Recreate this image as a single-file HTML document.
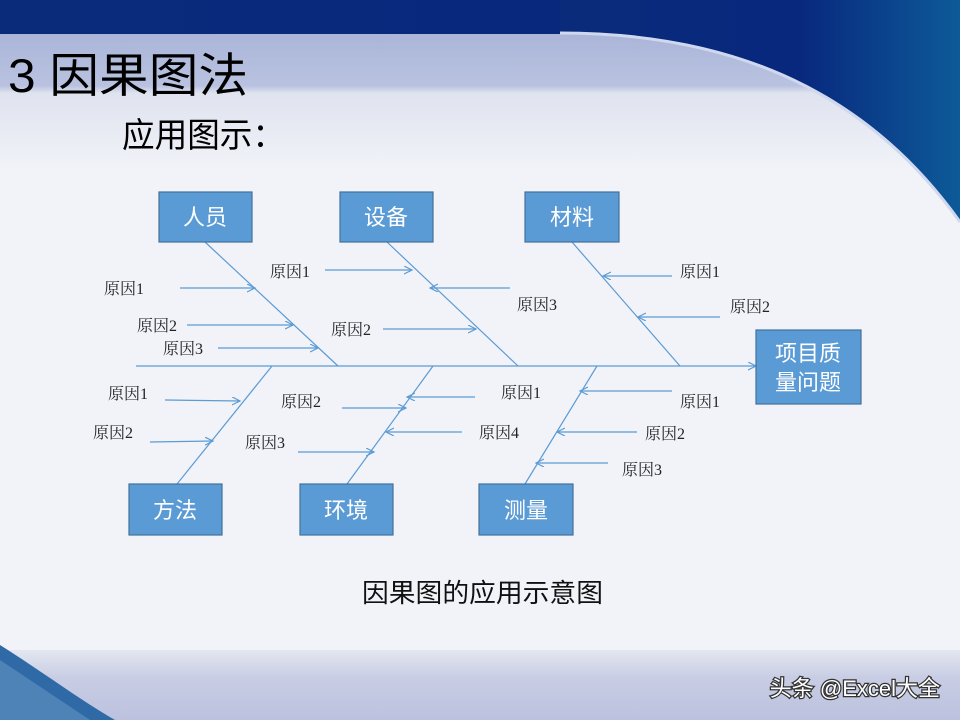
<!DOCTYPE html>
<html><head><meta charset="utf-8"><style>
html,body{margin:0;padding:0;width:960px;height:720px;overflow:hidden;background:#f1f3f8}
</style></head><body>
<svg width="960" height="720" viewBox="0 0 960 720" xmlns="http://www.w3.org/2000/svg">
<defs>
<linearGradient id="top" x1="0" y1="0" x2="1" y2="0">
<stop offset="0" stop-color="#0a2a7a"/><stop offset="0.6" stop-color="#08287e"/><stop offset="1" stop-color="#0d5a98"/></linearGradient>
<linearGradient id="band" x1="0" y1="0" x2="0" y2="1">
<stop offset="0" stop-color="#a9b4d8"/><stop offset="0.4" stop-color="#b9c2e0"/><stop offset="0.45" stop-color="#dfe3ef"/><stop offset="1" stop-color="#f1f3f8"/></linearGradient>
<linearGradient id="bot" x1="0" y1="0" x2="0" y2="1">
<stop offset="0" stop-color="#e4e7f1"/><stop offset="0.4" stop-color="#c8cde4"/><stop offset="1" stop-color="#bcc2de"/></linearGradient>
<marker id="a" markerWidth="10" markerHeight="10" refX="8" refY="4" orient="auto" markerUnits="userSpaceOnUse">
<path d="M0,0 L8,4 L0,8" fill="none" stroke="#5b9bd5" stroke-width="1.2"/></marker>
</defs>
<rect width="960" height="720" fill="#f1f3f8"/>
<rect x="0" y="30" width="960" height="140" fill="url(#band)"/>
<rect x="0" y="0" width="960" height="34" fill="url(#top)"/>
<path d="M560,32 C720,32 860,80 960,220 L960,0 L560,0 Z" fill="url(#top)"/>
<path d="M560,33 C720,33 860,82 960,222" fill="none" stroke="#cfd8ee" stroke-width="3"/>
<rect x="0" y="650" width="960" height="70" fill="url(#bot)"/>
<path d="M0,645 C40,670 80,700 115,720 L0,720 Z" fill="#2f6aa6"/>
<path d="M0,660 C30,680 60,700 90,720 L0,720 Z" fill="#5a8fbf" opacity="0.7"/>
<g font-family="Liberation Sans, Noto Sans CJK SC, sans-serif" fill="#000">
<text x="8" y="92" font-size="47" textLength="240" lengthAdjust="spacingAndGlyphs">3 因果图法</text>
<text x="122" y="147" font-size="34" textLength="163" lengthAdjust="spacingAndGlyphs">应用图示：</text>
</g>
<g stroke="#5b9bd5" stroke-width="1.2" fill="none">
<line x1="136" y1="366" x2="756" y2="366" marker-end="url(#a)"/>
<line x1="205" y1="242" x2="338" y2="366"/>
<line x1="387" y1="242" x2="518" y2="366"/>
<line x1="572" y1="242" x2="680" y2="366"/>
<line x1="177" y1="484" x2="272" y2="366"/>
<line x1="347" y1="484" x2="433" y2="366"/>
<line x1="525" y1="484" x2="597" y2="366"/>
<g marker-end="url(#a)">
<line x1="180" y1="288" x2="255" y2="288"/>
<line x1="187" y1="325" x2="293" y2="325"/>
<line x1="218" y1="348" x2="318" y2="348"/>
<line x1="325" y1="270" x2="412" y2="270"/>
<line x1="510" y1="288" x2="430" y2="288"/>
<line x1="383" y1="329" x2="476" y2="329"/>
<line x1="672" y1="276" x2="603" y2="276"/>
<line x1="720" y1="317" x2="638" y2="317"/>
<line x1="165" y1="400" x2="240" y2="401"/>
<line x1="150" y1="442" x2="213" y2="441"/>
<line x1="342" y1="408" x2="406" y2="408"/>
<line x1="298" y1="452" x2="374" y2="452"/>
<line x1="475" y1="397" x2="407" y2="397"/>
<line x1="462" y1="432" x2="386" y2="432"/>
<line x1="672" y1="391" x2="580" y2="391"/>
<line x1="637" y1="432" x2="557" y2="432"/>
<line x1="608" y1="463" x2="536" y2="463"/>
</g></g>
<g fill="#5b9bd5" stroke="#41719c" stroke-width="1.2">
<rect x="159" y="192" width="93" height="50"/>
<rect x="340" y="192" width="93" height="50"/>
<rect x="525" y="192" width="94" height="50"/>
<rect x="756" y="330" width="105" height="74"/>
<rect x="129" y="484" width="93" height="51"/>
<rect x="300" y="484" width="93" height="51"/>
<rect x="479" y="484" width="94" height="51"/>
</g>
<g font-family="Liberation Sans, Noto Sans CJK SC, sans-serif" font-size="22" fill="#fff" text-anchor="middle">
<text x="205" y="225">人员</text>
<text x="386" y="225">设备</text>
<text x="572" y="225">材料</text>
<text x="808" y="361">项目质</text>
<text x="808" y="390">量问题</text>
<text x="175" y="518">方法</text>
<text x="346" y="518">环境</text>
<text x="526" y="518">测量</text>
</g>
<g font-family="Liberation Serif, Noto Serif CJK SC, serif" font-size="16" fill="#222">
<text x="104" y="294">原因1</text>
<text x="137" y="331">原因2</text>
<text x="163" y="354">原因3</text>
<text x="270" y="277">原因1</text>
<text x="517" y="310">原因3</text>
<text x="331" y="335">原因2</text>
<text x="680" y="277">原因1</text>
<text x="730" y="312">原因2</text>
<text x="108" y="399">原因1</text>
<text x="93" y="438">原因2</text>
<text x="281" y="407">原因2</text>
<text x="245" y="448">原因3</text>
<text x="501" y="398">原因1</text>
<text x="479" y="438">原因4</text>
<text x="680" y="407">原因1</text>
<text x="645" y="439">原因2</text>
<text x="622" y="475">原因3</text>
</g>
<text x="362" y="602" font-family="Liberation Sans, Noto Sans CJK SC, sans-serif" font-size="26" textLength="241" lengthAdjust="spacingAndGlyphs" fill="#111">因果图的应用示意图</text>
<text x="940" y="696" font-family="Liberation Sans, Noto Sans CJK SC, sans-serif" font-size="22" text-anchor="end" fill="#fff" stroke="#333" stroke-width="2.5" paint-order="stroke">头条 @Excel大全</text>
</svg>
</body></html>
